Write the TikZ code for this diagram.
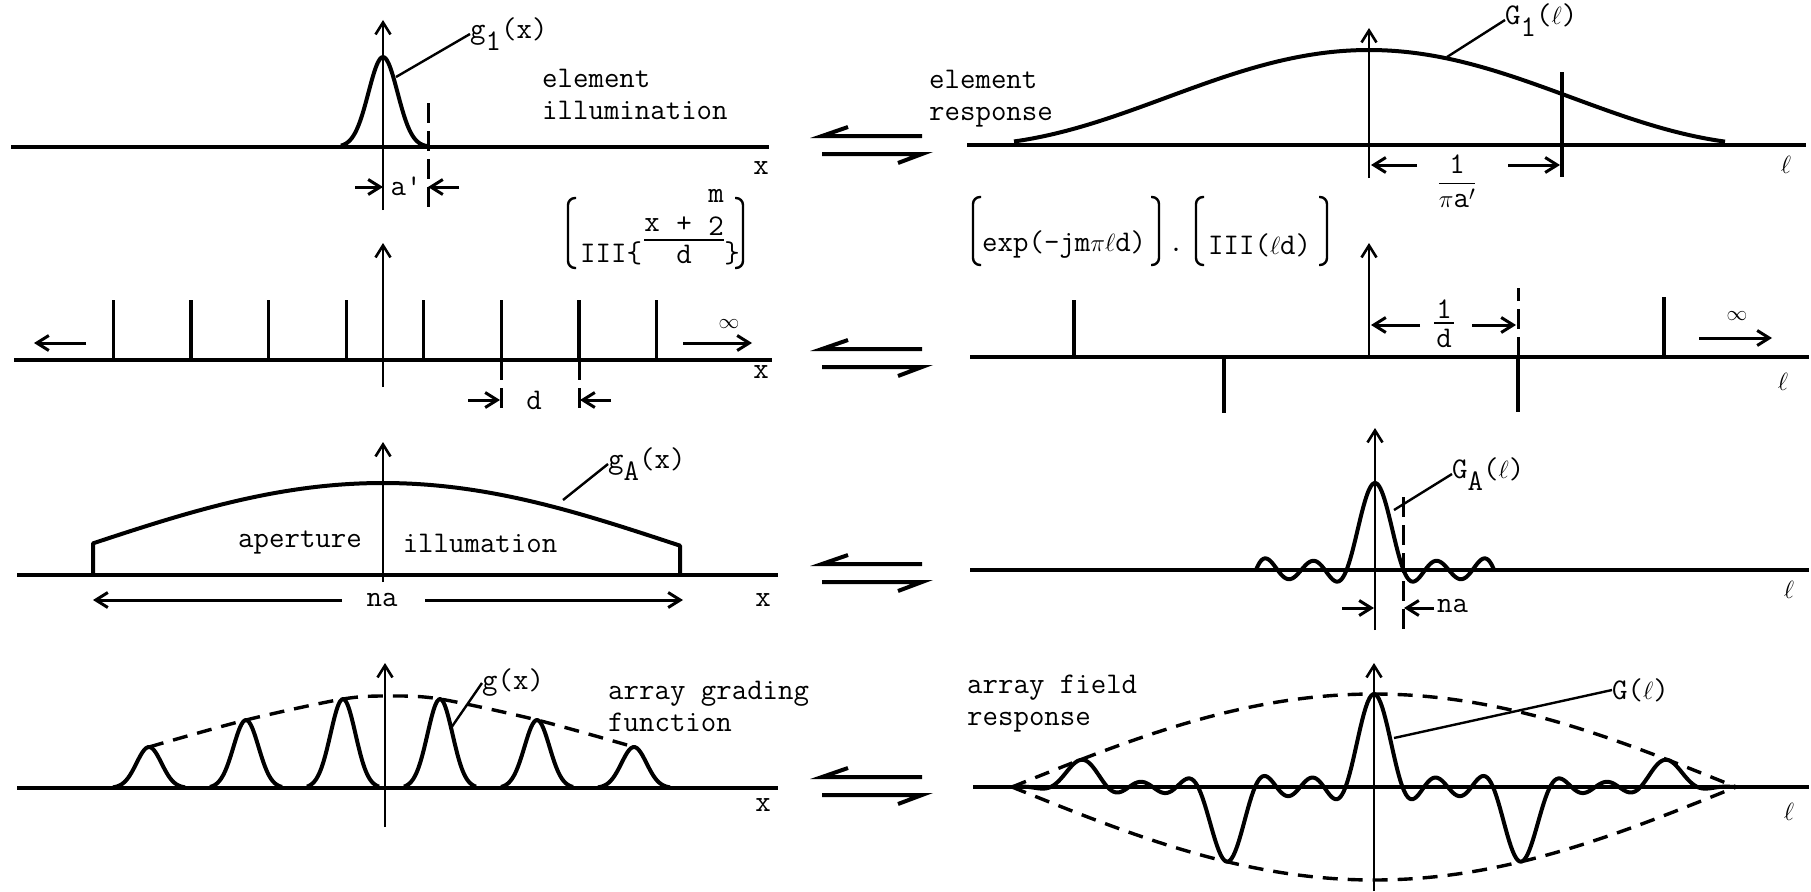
\documentclass[tikz,border=0pt]{standalone}
\usepackage{amsmath}
\usepackage{fontspec}
\usetikzlibrary{arrows.meta}

\newcommand{\lowr}[1]{\raisebox{-12pt}{#1}}

\begin{document}
\begin{tikzpicture}[x=1pt, y=-1pt, >={Straight Barb[length=12pt, width=15pt]},
  declare function={af(\t)=(89*cos(180*(\t))+75*cos(540*(\t))+55*cos(900*(\t)))/219;}]

\tikzstyle{base}=[line width=4.5pt]
\tikzstyle{yaxis}=[->, line width=2.6pt]
\tikzstyle{curve}=[line width=4pt, line join=round]
\tikzstyle{env}=[line width=3.4pt, dash pattern=on 15pt off 10pt]
\tikzstyle{spike}=[line width=3.2pt]
\tikzstyle{guide}=[line width=3pt, dash pattern=on 20pt off 8pt]
\tikzstyle{dim}=[->, line width=3pt]
\tikzstyle{lead}=[line width=2.4pt]
\tikzstyle{brk}=[line width=2.4pt, rounded corners=7pt]
\tikzstyle{eqv}=[line width=4pt, line join=miter]
\tikzstyle{txt}=[font=\fontsize{30}{32}\selectfont\ttfamily, inner sep=0pt]
\tikzstyle{lbl}=[txt, anchor=west]

\useasboundingbox (0,0) rectangle (1811,891);

\foreach \y in {147,360,575,788} {
  \draw[eqv] (922,\y-11) -- (822,\y-11) -- (848,\y-20);
  \draw[eqv] (822,\y+7) -- (922,\y+7) -- (898,\y+16);
}

% row 1
\draw[base] (11,147) -- (769,147);
\draw[yaxis] (383,210) -- (383,20);
\draw[curve] plot[domain=-42:44, samples=50, smooth] ({383+(\x)},{147-90*exp(-0.5*(\x/14.5)*(\x/14.5))});
\draw[guide] (428,103) -- (428,210);
\node[lbl] (g1) at (470,34) {g\lowr{1}(x)};
\draw[lead] (396,77) -- (g1.west);
\node[lbl, align=left] (elill) at (542,94) {element\\illumination};
\node[txt] (xl1) at (761,168) {x};
\draw[dim] (355,187) -- (383,187);
\node[txt] (ap) at (406,186) {a'};
\draw[dim] (459,187) -- (428,187);

\draw[base] (967,145) -- (1806,145);
\draw[yaxis] (1369,178) -- (1369,28);
\draw[curve] plot[domain=-355:356, samples=120, smooth] ({1369+(\x)},{145-95*cos((\x)*(90/405))*cos((\x)*(90/405))});
\draw[spike] (1562,72) -- (1562,177);
\node[lbl] (G1) at (1505,20) {G\lowr{1}($\ell$)};
\draw[lead] (1447,57) -- (G1.west);
\node[lbl, align=left] (elres) at (929,99) {element\\response};
\draw[dim] (1417,165) -- (1371,165);
\draw[dim] (1508,165) -- (1560,165);
\node[txt] (invpa) at (1457,181) {$\dfrac{\mathtt{1}}{\pi\mathtt{a'}}$};
\node[txt] (ell1) at (1786,165) {$\ell$};

% row 2
\draw[base] (14,360) -- (772,360);
\draw[yaxis] (383,387) -- (383,243);
\foreach \i in {1,...,8}
  \draw[spike] ({385+38.8*(2*\i-9)},360) coordinate (sp\i) -- ++(0,-60);
\draw[guide] (sp6) -- ++(0,53);
\draw[guide] (sp7) -- ++(0,53);
\draw[dim] (468,400) -- (500,400);
\node[txt] (dl) at (534,400) {d};
\draw[dim] (611,400) -- (580,400);
\draw[dim] (86,343) -- (34,343);
\draw[dim] (683,343) -- (752,343);
\node[txt] (inf1) at (729,324) {\fontsize{20}{20}\selectfont$\infty$};
\node[txt] (xl2) at (761,372) {x};
\draw[brk] (576,198) -- (568,198) -- (568,268) -- (576,268);
\node[lbl] (comb) at (580,253) {III\{};
\node[txt] (cx) at (652,225) {x};
\node[txt] (cplus) at (684,225) {+};
\node[txt] (ctwo) at (716,226) {2};
\node[txt] (cm) at (716,196) {m};
\draw[lead] (644,240) -- (724,240);
\node[txt] (cd) at (684,254) {d};
\node[txt] (crb) at (732,253) {\}};
\draw[brk] (735,198) -- (743,198) -- (743,268) -- (735,268);

\draw[base] (970,357) -- (1809,357);
\draw[yaxis] (1369,357) -- (1369,243);
\draw[spike] (1074,357) -- (1074,300);
\draw[spike] (1224,357) -- (1224,413);
\draw[spike] (1518,357) -- (1518,412);
\draw[guide] (1518,357) -- (1518,288);
\draw[spike] (1664,357) -- (1664,297);
\draw[dim] (1420,325) -- (1371,325);
\draw[dim] (1472,325) -- (1516,325);
\node[txt] (one) at (1444,309) {1};
\draw[lead] (1434,323) -- (1454,323);
\node[txt] (dr) at (1444,338) {d};
\draw[dim] (1699,338) -- (1772,338);
\node[txt] (inf2) at (1737,316) {\fontsize{20}{20}\selectfont$\infty$};
\node[txt] (ell2) at (1783,382) {$\ell$};
\draw[brk] (981,197) -- (973,197) -- (973,265) -- (981,265);
\node[lbl] (expo) at (982,245) {exp(-jm$\pi\ell$d)};
\draw[brk] (1151,197) -- (1159,197) -- (1159,265) -- (1151,265);
\node[txt] (dot) at (1176,250) {.};
\draw[brk] (1204,197) -- (1196,197) -- (1196,265) -- (1204,265);
\node[lbl] (combr) at (1208,245) {III($\ell$d)};
\draw[brk] (1319,197) -- (1327,197) -- (1327,265) -- (1319,265);

% row 3
\draw[base] (17,575) -- (778,575);
\draw[yaxis] (383,582) -- (383,442);
\draw[curve] (93,575) -- plot[domain=-290:297, samples=80, smooth] ({383+(\x)},{545-62*cos((\x)*(90/295))}) -- (680,575);
\node[lbl] (gA) at (608,464) {g\lowr{A}(x)};
\draw[lead] (563,500) -- (gA.west);
\node[txt] (apt) at (300,543) {aperture};
\node[txt] (ill) at (480,543) {illumation};
\draw[dim] (342,600) -- (93,600);
\node[txt] (na1) at (382,600) {na};
\draw[dim] (425,600) -- (683,600);
\node[txt] (xl3) at (763,600) {x};

\draw[base] (970,570) -- (1809,570);
\draw[yaxis] (1375,630) -- (1375,428);
\draw[curve] plot[domain=-119:119, samples=200] ({1375+(\x)},{570-87*af((\x)/147.5)});
\draw[guide] (1403,497) -- (1403,630);
\node[lbl] (GA) at (1452,474) {G\lowr{A}($\ell$)};
\draw[lead] (1394,510) -- (GA.west);
\draw[dim] (1342,608) -- (1374,608);
\draw[dim] (1434,608) -- (1404,608);
\node[lbl] (na2) at (1437,606) {na};
\node[txt] (ell3) at (1789,590) {$\ell$};

% row 4
\draw[base] (17,788) -- (778,788);
\draw[yaxis] (385,827) -- (385,663);
\foreach \p/\h in {149/41, 246/68, 343/89, 440/89, 537/68, 634/41}
  \draw[curve] plot[domain=-36:36, samples=40, smooth] ({\p+(\x)},{788-\h*exp(-0.5*(\x/12.5)*(\x/12.5))});
\draw[env] plot[smooth] coordinates {(149,747) (246,720) (343,699) (391,696) (440,699) (537,720) (634,747)};
\node[lbl] (gx) at (482,683) {g(x)};
\draw[lead] (451,728) -- (gx.west);
\node[lbl, align=left] (agf) at (608,706) {array grading\\function};
\node[txt] (xl4) at (763,805) {x};

\draw[base] (973,787) -- (1809,787);
\draw[yaxis] (1374,891) -- (1374,663);
\draw[env] plot[domain=-362:362, samples=80, smooth] ({1374+(\x)},{787-93*cos((\x)*(90/362))});
\draw[env] plot[domain=-362:362, samples=80, smooth] ({1374+(\x)},{787+93*cos((\x)*(90/362))});
\draw[curve] plot[domain=-362:362, samples=400] ({1374+(\x)},{787-93*cos((\x)*(90/362))*af((\x)/147.5)});
\node[lbl] (Gl) at (1612,690) {G($\ell$)};
\draw[lead] (1394,738) -- (Gl.west);
\node[lbl, align=left] (afr) at (967,704) {array field\\response};
\node[txt] (ell4) at (1789,812) {$\ell$};

\end{tikzpicture}
\end{document}
